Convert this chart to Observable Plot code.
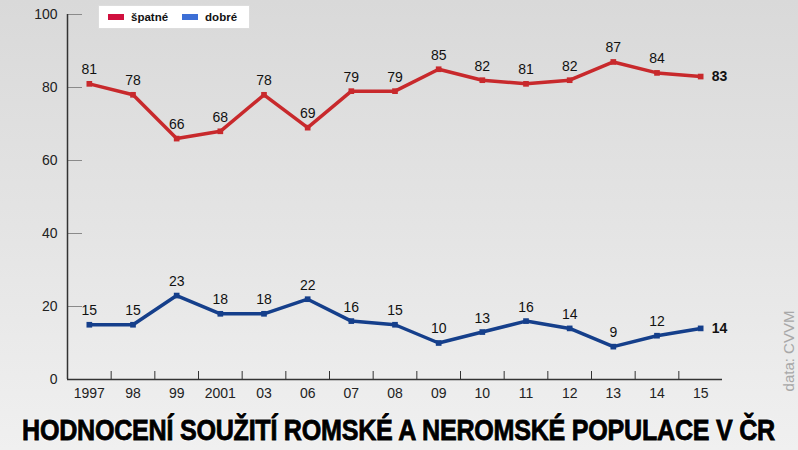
<!DOCTYPE html>
<html><head><meta charset="utf-8">
<script src="https://cdn.jsdelivr.net/npm/d3@7"></script>
<script src="https://cdn.jsdelivr.net/npm/@observablehq/plot@0.6"></script>
<style>
body{margin:0;width:798px;height:450px;overflow:hidden;position:relative;
  background:linear-gradient(180deg,#d9d9d9 0%,#e4e4e4 50%,#f0f0f0 100%);
  font-family:"Liberation Sans",Arial,sans-serif;}
#chart{position:absolute;left:0;top:0;}
#title{position:absolute;left:0;top:410px;width:798px;height:40px;}
#title span{position:absolute;left:22px;top:0;white-space:nowrap;transform-origin:left center;line-height:40px;
  font-family:"Liberation Sans",Arial,sans-serif;font-weight:bold;font-size:29px;color:#000;letter-spacing:-0.3px;
  -webkit-text-stroke:0.8px #000;
  text-shadow:0 0 3px #fff,0 0 3px #fff,0 0 2px #fff;}
#legend{position:absolute;left:98px;top:5px;width:152px;height:24px;background:#fff;border:1px solid #ddd;box-sizing:border-box;
  font-size:11.5px;font-weight:bold;color:#111;display:flex;align-items:center;}
#legend .sw{display:inline-block;width:16px;height:6px;margin-left:9px;margin-right:7px;}
#source{position:absolute;left:739px;top:342px;width:100px;text-align:center;transform:rotate(-90deg);transform-origin:center;
  font-size:15px;line-height:18px;color:#a8a8a8;white-space:nowrap;}
</style></head><body>
<div id="chart"></div>
<div id="legend"></div>
<div id="title"><span id="titleText">HODNOCENÍ SOUŽITÍ ROMSKÉ A NEROMSKÉ POPULACE V ČR</span></div>
<div id="source">data: CVVM</div>
<script>
const years = ["1997","98","99","2001","03","06","07","08","09","10","11","12","13","14","15"];
const spatne = [81,78,66,68,78,69,79,79,85,82,81,82,87,84,83];
const dobre = [15,15,23,18,18,22,16,15,10,13,16,14,9,12,14];
const yTicks = [0,20,40,60,80,100];
const seriesNames = ["špatné","dobré"];
const lineColors = ["#c8292c","#153f8b"];
const legendColors = ["#d0103e","#3d6fd6"];

const rows = [
  ...years.map((year,i)=>({i,year,value:spatne[i],series:seriesNames[0]})),
  ...years.map((year,i)=>({i,year,value:dobre[i],series:seriesNames[1]}))
];
const lastIndex = years.length-1;
const last = rows.filter(d=>d.i===lastIndex);
const rest = rows.filter(d=>d.i!==lastIndex);
const xDomain = [-0.5, years.length-0.5];

const plot = Plot.plot({
  width:798, height:405,
  marginLeft:67, marginRight:76, marginTop:14, marginBottom:26,
  style:{background:"transparent", fontFamily:"Liberation Sans, Arial, sans-serif", fontSize:"14px", color:"#222", overflow:"visible"},
  x:{type:"linear", domain:xDomain},
  y:{domain:[0,100]},
  color:{domain:seriesNames, range:lineColors},
  marks:[
    Plot.axisY(yTicks,{tickSize:0, tickPadding:10, fontSize:14, label:null}),
    Plot.axisY(yTicks,{tickSize:-15, text:null, stroke:"#8a8a8a", label:null}),
    Plot.axisX(d3.range(years.length),{tickSize:0, tickPadding:9, fontSize:14, tickFormat:i=>years[i], label:null}),
    Plot.axisX(d3.range(1,years.length).map(i=>i-0.5),{tickSize:-8, text:null, stroke:"#333", label:null}),
    Plot.ruleX([xDomain[0]],{stroke:"#333", strokeWidth:1.5}),
    Plot.ruleY([0],{stroke:"#333", strokeWidth:1.5}),
    Plot.line(rows,{x:"i", y:"value", z:"series", stroke:"series", strokeWidth:3.5}),
    Plot.dot(rows,{x:"i", y:"value", fill:"series", symbol:"square", r:3.2}),
    Plot.text(rest,{x:"i", y:"value", text:"value", dy:-14, fill:"#111", fontSize:14}),
    Plot.text(last,{x:"i", y:"value", text:"value", dx:11, textAnchor:"start", fontWeight:"bold", fill:"#111", fontSize:14})
  ]
});
document.getElementById("chart").append(plot);

const legend = document.getElementById("legend");
seriesNames.forEach((name,k)=>{
  const sw = document.createElement("span");
  sw.className="sw"; sw.style.background=legendColors[k];
  if(k===1) sw.style.marginLeft="14px";
  legend.append(sw);
  const t = document.createElement("span");
  t.textContent=name;
  legend.append(t);
});

const tt = document.getElementById("titleText");
const w = tt.getBoundingClientRect().width;
tt.style.transform = `scaleX(${753/w})`;
</script>
</body></html>
